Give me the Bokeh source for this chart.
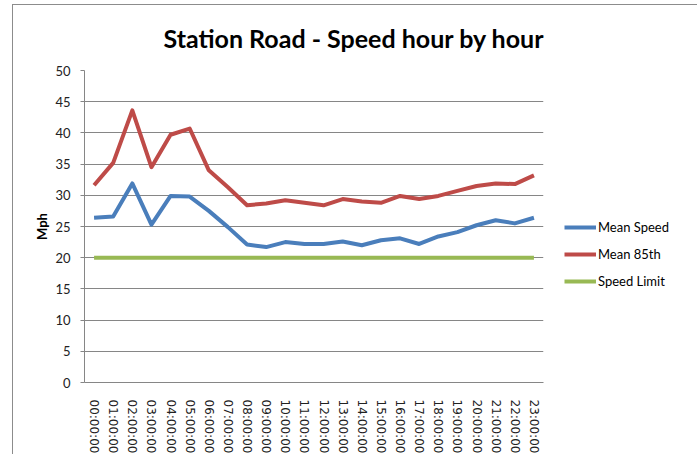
from bokeh.plotting import figure
from bokeh.models import (Range1d, FactorRange, Legend, LegendItem,
                          SingleIntervalTicker)
from bokeh.embed import file_html
from bokeh.resources import INLINE

hours = ["00:00:00", "01:00:00", "02:00:00", "03:00:00", "04:00:00", "05:00:00",
         "06:00:00", "07:00:00", "08:00:00", "09:00:00", "10:00:00", "11:00:00",
         "12:00:00", "13:00:00", "14:00:00", "15:00:00", "16:00:00", "17:00:00",
         "18:00:00", "19:00:00", "20:00:00", "21:00:00", "22:00:00", "23:00:00"]
mean_speed = [26.4, 26.6, 31.9, 25.3, 29.9, 29.8, 27.5, 24.9, 22.1, 21.7, 22.5, 22.2,
              22.2, 22.6, 22.0, 22.8, 23.1, 22.2, 23.4, 24.1, 25.2, 26.0, 25.5, 26.4]
mean_85th = [31.6, 35.2, 43.6, 34.5, 39.7, 40.7, 34.0, 31.3, 28.4, 28.7, 29.2, 28.8,
             28.4, 29.4, 29.0, 28.8, 29.9, 29.4, 29.9, 30.7, 31.5, 31.9, 31.8, 33.2]
speed_limit = [20, 20, 20, 20, 20, 20, 20, 20, 20, 20, 20, 20,
               20, 20, 20, 20, 20, 20, 20, 20, 20, 20, 20, 20]
series_names = ["Mean Speed", "Mean 85th", "Speed Limit"]
title_text = "Station Road - Speed hour by hour"
y_label = "Mph"

p = figure(frame_width=459, frame_height=312,
           x_range=FactorRange(factors=hours, range_padding=0),
           y_range=Range1d(0, 50),
           output_backend="svg", toolbar_location=None,
           min_border_left=71, min_border_right=146,
           min_border_top=65, min_border_bottom=73,
           margin=(4, 9, 0, 12),
           styles={"border": "1px solid #8c8c8c", "box-sizing": "border-box"})
p.outline_line_color = None
p.background_fill_color = "white"
p.border_fill_color = "white"

p.title.text = title_text
p.title.align = "left"
p.title.offset = 79
p.title.standoff = 31
p.title.vertical_align = "top"
p.title.text_font = "Lato"
p.title.text_font_size = "25px"
p.title.text_font_style = "bold"
p.title.text_color = "black"

grey = "#868686"
p.xgrid.grid_line_color = None
p.ygrid.grid_line_color = grey
p.ygrid.grid_line_width = 1

p.yaxis.ticker = SingleIntervalTicker(interval=5, num_minor_ticks=0)
p.yaxis.axis_line_color = grey
p.yaxis.major_tick_line_color = grey
p.yaxis.major_tick_in = 0
p.yaxis.major_tick_out = 4
p.yaxis.minor_tick_line_color = None
p.yaxis.major_label_standoff = 10
p.yaxis.major_label_text_font = "Lato"
p.yaxis.major_label_text_font_size = "13px"
p.yaxis.major_label_text_color = "#222222"
p.yaxis.axis_label = y_label
p.yaxis.axis_label_text_font = "Lato"
p.yaxis.axis_label_text_font_style = "bold"
p.yaxis.axis_label_text_font_size = "13px"
p.yaxis.axis_label_text_color = "black"
p.yaxis.axis_label_standoff = 2

p.xaxis.axis_line_color = grey
p.xaxis.major_tick_line_color = None
p.xaxis.minor_tick_line_color = None
p.xaxis.major_label_orientation = "vertical"
p.xaxis.major_label_standoff = 11
p.xaxis.major_label_text_font = "DejaVu Sans"
p.xaxis.major_label_text_font_size = "12px"
p.xaxis.major_label_text_color = "#222222"

colors = ["#4A7EBB", "#BE4B48", "#98B954"]
r1 = p.line(hours, mean_speed, line_color=colors[0], line_width=4, line_join="round")
r2 = p.line(hours, mean_85th, line_color=colors[1], line_width=4, line_join="round")
r3 = p.line(hours, speed_limit, line_color=colors[2], line_width=4, line_join="round")

legend = Legend(items=[LegendItem(label=series_names[0], renderers=[r1]),
                       LegendItem(label=series_names[1], renderers=[r2]),
                       LegendItem(label=series_names[2], renderers=[r3])],
                location=(21, 91), glyph_width=32, glyph_height=20,
                label_height=20, spacing=7, padding=0, margin=0,
                label_standoff=2, border_line_color=None,
                background_fill_alpha=0,
                label_text_font="Lato", label_text_font_size="13px",
                label_text_color="black")
p.add_layout(legend, "right")

open("out.html", "w").write(file_html(p, INLINE))
